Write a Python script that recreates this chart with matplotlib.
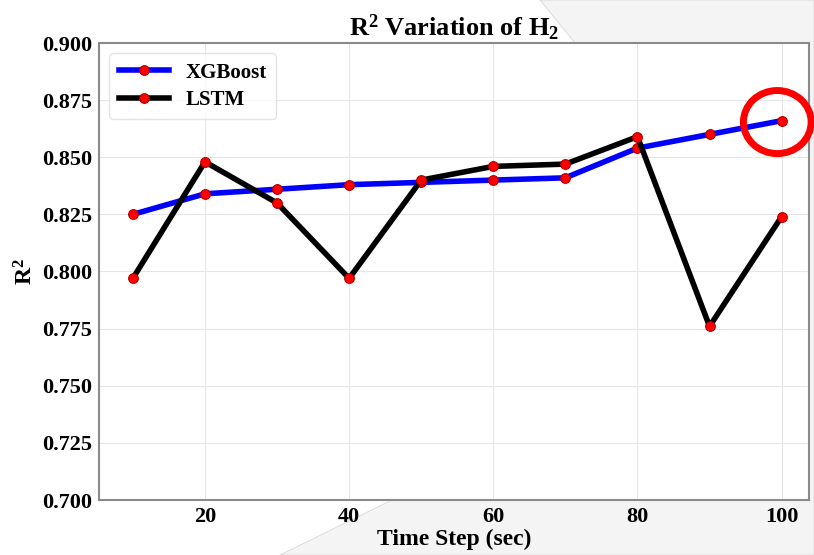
import numpy as np
import matplotlib
matplotlib.use("Agg")
import matplotlib.pyplot as plt
from matplotlib.patches import Ellipse, Polygon

# ─── data ───────────────────────────────────────────────────────────────────
time_steps = [10, 20, 30, 40, 50, 60, 70, 80, 90, 100]
r2_xgboost = [0.825, 0.834, 0.836, 0.838, 0.839, 0.840, 0.841, 0.854, 0.860, 0.866]
r2_lstm    = [0.797, 0.848, 0.830, 0.797, 0.840, 0.846, 0.847, 0.859, 0.776, 0.824]
y_ticks    = [0.700, 0.725, 0.750, 0.775, 0.800, 0.825, 0.850, 0.875, 0.900]
x_ticks    = [20, 40, 60, 80, 100]

plt.rcParams["font.family"] = ["Liberation Serif", "DejaVu Serif"]
plt.rcParams["font.weight"] = "bold"
plt.rcParams["mathtext.fontset"] = "custom"
plt.rcParams["mathtext.rm"] = "Liberation Serif:bold"
plt.rcParams["mathtext.it"] = "Liberation Serif:bold"
plt.rcParams["mathtext.bf"] = "Liberation Serif:bold"

fig = plt.figure(figsize=(8.14, 5.55), dpi=100)

# grey page corner behind the plot (screenshot artefact)
W, H = 814, 555
pts = [(540, 0), (W, 0), (W, H), (280, H), (392, 500), (575, 43)]
bg = Polygon([(x / W, 1 - y / H) for x, y in pts], closed=True,
             transform=fig.transFigure, facecolor="#f4f4f4",
             edgecolor="#d8d8d8", lw=0.6, zorder=-5)
fig.patches.append(bg)

ax = fig.add_axes([99 / W, 55 / H, 710 / W, 457 / H])
ax.set_zorder(2)
ax.set_facecolor("white")

ax.plot(time_steps, r2_xgboost, color="blue", lw=4, marker="o", ms=7,
        mfc="red", mec="#b00000", mew=0.8, label="XGBoost", zorder=3)
ax.plot(time_steps, r2_lstm, color="black", lw=4, marker="o", ms=7,
        mfc="red", mec="#b00000", mew=0.8, label="LSTM", zorder=3)

# red highlight circle around the last XGBoost point
ax.add_patch(Ellipse((99.4, 0.8654), width=9.4, height=0.0276, fill=False,
                     edgecolor="red", lw=5, clip_on=False, zorder=5))

ax.set_xlim(5.3, 103.8)
ax.set_ylim(0.700, 0.900)
ax.set_yticks(y_ticks)
ax.set_yticklabels([f"{v:.3f}" for v in y_ticks])
ax.set_xticks(x_ticks)
ax.tick_params(labelsize=16, length=0, pad=5)
ax.grid(True, color="#e6e6e6", lw=0.8)
ax.set_axisbelow(True)
for s in ax.spines.values():
    s.set_color("#8a8a8a")
    s.set_linewidth(1.5)

ax.set_xlabel("Time Step (sec)", fontsize=17, fontweight="bold", labelpad=1)
ax.set_ylabel(r"R$^2$", fontsize=17, fontweight="bold", labelpad=3)
ax.set_title(r"R$^2$ Variation of H$_2$", fontsize=19, fontweight="bold", pad=5)

leg = ax.legend(loc="upper left", fontsize=15, frameon=True, handlelength=2.4,
                borderpad=0.45, labelspacing=0.35)
leg.get_frame().set_edgecolor("#dddddd")

fig.savefig("out.png", dpi=100)
